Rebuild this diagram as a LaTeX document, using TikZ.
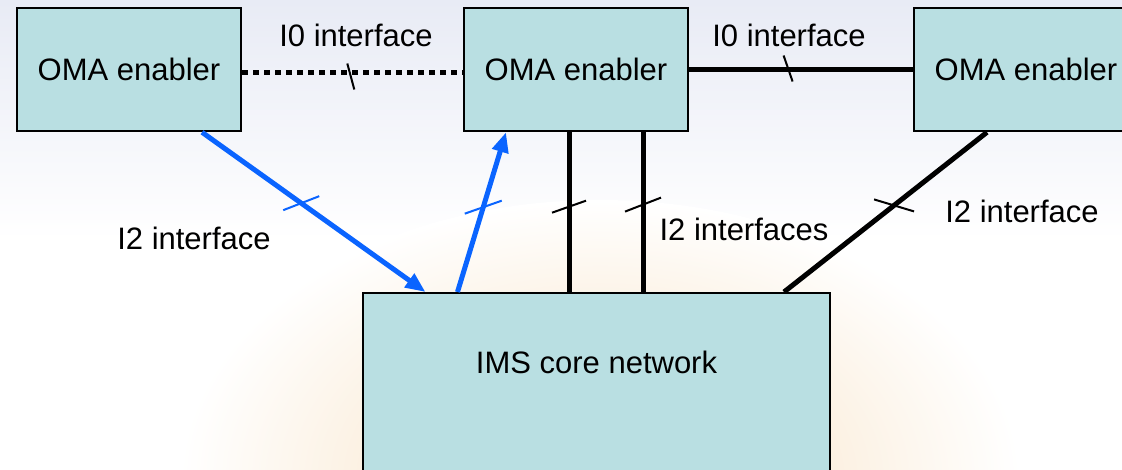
\documentclass[tikz,border=0pt]{standalone}
\usepackage{fontspec}
\setmainfont{Liberation Sans}
\usetikzlibrary{arrows.meta}
\definecolor{boxfill}{HTML}{B9DFE2}
\definecolor{ifblue}{HTML}{0A64FF}
\definecolor{glow}{HTML}{F8E3C6}
\definecolor{haze}{HTML}{E8EBF5}
\pgfdeclareradialshading{glowshade}{\pgfpoint{0bp}{0bp}}{color(0bp)=(glow); color(12bp)=(glow!60!white); color(25bp)=(white); color(50bp)=(white)}
\tikzset{
  enabler/.style={draw=black, line width=2.5pt, fill=boxfill, minimum width=224pt, minimum height=123pt, inner sep=0pt},
  core/.style={draw=black, line width=2.5pt, fill=boxfill, minimum width=467pt, inner xsep=0pt, inner ysep=0pt, text height=80pt, text depth=150pt, anchor=north},
  iflabel/.style={inner sep=0pt},
  iline/.style={line width=5pt},
  ldots/.style={line width=5pt, dash pattern=on 6pt off 5pt},
  blueline/.style={line width=5pt, ifblue, -{Triangle[length=20pt,width=16pt]}},
  tick/.style={line width=2pt},
}
\begin{document}
\begin{tikzpicture}[x=1pt, y=-1pt, font=\fontsize{31}{36}\selectfont]
    % page and background
    \useasboundingbox (0,0) rectangle (1122,470);
    \clip (0,0) rectangle (1122,470);
    \fill[white] (0,0) rectangle (1122,470);
    \shade[top color=haze, bottom color=white] (0,0) rectangle (1122,240);
    \shade[shading=glowshade] (600,480) ellipse (420 and 280);
    % --- enablers and core ---
    \node[enabler] (enA) at (129,69.5) {OMA enabler};
    \node[enabler] (enB) at (576,69.5) {OMA enabler};
    \node[enabler] (enC) at (1026,69.5) {OMA enabler};
    \node[core] (ims) at (596.5,292) {IMS core network};
    % I0 between enablers
    \draw[ldots] ([yshift=-3pt]enA.east) -- ([yshift=-3pt]enB.west) coordinate[pos=0.49] (t1);
    \draw[iline] (enB.east) -- (enC.west) coordinate[pos=0.44] (t2);
    \draw[tick] (t1) ++(-3,-9) -- ++(7,26);
    \draw[tick] (t2) ++(-4,-14) -- ++(9,26);
    % I2 (blue, with arrows)
    \draw[blueline] ([xshift=73pt]enA.south) -- ([xshift=-171pt]ims.north) coordinate[pos=0.444] (t3);
    \draw[blueline] ([xshift=-139pt]ims.north) -- ([xshift=-70pt]enB.south) coordinate[pos=0.531] (t4);
    \draw[tick, ifblue] (t3) ++(-18,7) -- ++(36,-14);
    \draw[tick, ifblue] (t4) ++(-18.5,6.5) -- ++(37,-13);
    % I2 (black)
    \draw[iline] ([xshift=-7pt]enB.south) -- ([xshift=-7pt]enB.south |- ims.north) coordinate[pos=0.466] (t5);
    \draw[iline] ([xshift=67pt]enB.south) -- ([xshift=67pt]enB.south |- ims.north) coordinate[pos=0.453] (t6);
    \draw[iline] ([xshift=-39pt]enC.south) -- ([xshift=187.5pt]ims.north) coordinate[pos=0.458] (t7);
    \draw[tick] (t5) ++(-17,6) -- ++(34,-12);
    \draw[tick] (t6) ++(-18,7) -- ++(36,-14);
    \draw[tick] (t7) ++(-20,-6) -- ++(40,12);
    % labels
    \node[iflabel] (l0a) at (356,35) {I0 interface};
    \node[iflabel] (l0b) at (789,35) {I0 interface};
    \node[iflabel] (l2a) at (194,238) {I2 interface};
    \node[iflabel] (l2b) at (744,229) {I2 interfaces};
    \node[iflabel] (l2c) at (1022,211) {I2 interface};
\end{tikzpicture}
\end{document}
